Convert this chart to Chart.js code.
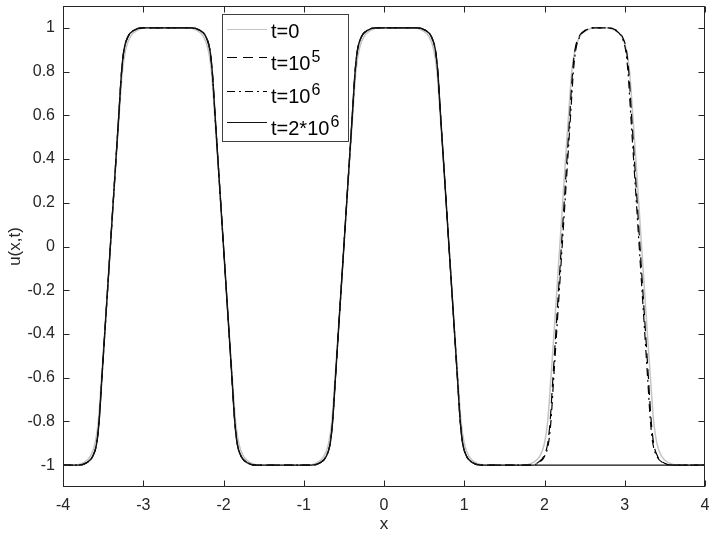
<!DOCTYPE html>
<html>
<head>
<meta charset="utf-8">
<title>u(x,t)</title>
<script src="https://cdn.jsdelivr.net/npm/chart.js@4.4.1/dist/chart.umd.min.js"></script>
<style>
  html, body { margin: 0; padding: 0; background: #fff; }
  #wrap { width: 712px; height: 538px; }
</style>
</head>
<body>
<div id="wrap"><canvas id="uChart" width="712" height="538"></canvas></div>
<script>
// Tick positions
const xTicks = [-4, -3, -2, -1, 0, 1, 2, 3, 4];
const yTicks = [-1, -0.8, -0.6, -0.4, -0.2, 0, 0.2, 0.4, 0.6, 0.8, 1];

// Legend text (base + superscript)
const legendBase = ['t=0', 't=10', 't=10', 't=2*10'];
const legendExp = ['', '5', '6', '6'];

// u values across one rising / falling interface
const riseU = [-1, -0.99, -0.96, -0.90, -0.80, -0.60, -0.40, -0.20, 0, 0.20, 0.40, 0.60, 0.80, 0.90, 0.96, 0.99, 1];
const fallU = [1, 0.99, 0.96, 0.90, 0.80, 0.60, 0.40, 0.20, 0, -0.20, -0.40, -0.60, -0.80, -0.90, -0.96, -0.99, -1];

// t = 0
const x0 = [-4.00,
  -3.86, -3.75, -3.66, -3.60, -3.56, -3.52, -3.482, -3.446, -3.41, -3.374, -3.338, -3.30, -3.26, -3.22, -3.16, -3.07, -2.96,
  -2.45, -2.34, -2.25, -2.19, -2.15, -2.11, -2.072, -2.036, -2.00, -1.964, -1.928, -1.89, -1.85, -1.81, -1.75, -1.66, -1.55,
  -0.95, -0.84, -0.75, -0.69, -0.65, -0.61, -0.572, -0.536, -0.50, -0.464, -0.428, -0.39, -0.35, -0.31, -0.25, -0.16, -0.05,
  0.36, 0.47, 0.56, 0.62, 0.66, 0.70, 0.738, 0.774, 0.81, 0.846, 0.882, 0.92, 0.96, 1.00, 1.06, 1.15, 1.26,
  1.74, 1.85, 1.94, 2.00, 2.04, 2.08, 2.118, 2.154, 2.19, 2.226, 2.262, 2.30, 2.34, 2.38, 2.44, 2.53, 2.64,
  2.76, 2.87, 2.96, 3.02, 3.06, 3.10, 3.138, 3.174, 3.21, 3.246, 3.282, 3.32, 3.36, 3.40, 3.46, 3.55, 3.66,
  4.00];
const u0 = [-1, ...riseU, ...fallU, ...riseU, ...fallU, ...riseU, ...fallU, -1];

// t = 10^5
const x1 = [-4.00,
  -3.81, -3.71, -3.63, -3.58, -3.55, -3.515, -3.48, -3.445, -3.41, -3.375, -3.34, -3.305, -3.27, -3.24, -3.19, -3.11, -3.01,
  -2.40, -2.30, -2.22, -2.17, -2.14, -2.105, -2.07, -2.035, -2.00, -1.965, -1.93, -1.895, -1.86, -1.83, -1.78, -1.70, -1.60,
  -0.90, -0.80, -0.72, -0.67, -0.64, -0.605, -0.57, -0.535, -0.50, -0.465, -0.43, -0.395, -0.36, -0.33, -0.28, -0.20, -0.10,
  0.41, 0.51, 0.59, 0.64, 0.67, 0.705, 0.74, 0.775, 0.81, 0.845, 0.88, 0.915, 0.95, 0.98, 1.03, 1.11, 1.21,
  1.81, 1.91, 1.99, 2.04, 2.07, 2.105, 2.14, 2.175, 2.21, 2.245, 2.28, 2.315, 2.35, 2.38, 2.43, 2.51, 2.61,
  2.79, 2.89, 2.97, 3.02, 3.05, 3.085, 3.12, 3.155, 3.19, 3.225, 3.26, 3.295, 3.33, 3.36, 3.41, 3.49, 3.59,
  4.00];
const u1 = [-1, ...riseU, ...fallU, ...riseU, ...fallU, ...riseU, ...fallU, -1];

// t = 10^6
const x2 = [-4.00,
  -3.81, -3.71, -3.63, -3.58, -3.55, -3.515, -3.48, -3.445, -3.41, -3.375, -3.34, -3.305, -3.27, -3.24, -3.19, -3.11, -3.01,
  -2.40, -2.30, -2.22, -2.17, -2.14, -2.105, -2.07, -2.035, -2.00, -1.965, -1.93, -1.895, -1.86, -1.83, -1.78, -1.70, -1.60,
  -0.90, -0.80, -0.72, -0.67, -0.64, -0.605, -0.57, -0.535, -0.50, -0.465, -0.43, -0.395, -0.36, -0.33, -0.28, -0.20, -0.10,
  0.41, 0.51, 0.59, 0.64, 0.67, 0.705, 0.74, 0.775, 0.81, 0.845, 0.88, 0.915, 0.95, 0.98, 1.03, 1.11, 1.21,
  1.82, 1.92, 2.00, 2.05, 2.08, 2.115, 2.15, 2.185, 2.22, 2.255, 2.29, 2.325, 2.36, 2.39, 2.44, 2.52, 2.62,
  2.78, 2.88, 2.96, 3.01, 3.04, 3.075, 3.11, 3.145, 3.18, 3.215, 3.25, 3.285, 3.32, 3.35, 3.40, 3.48, 3.58,
  4.00];
const u2 = [-1, ...riseU, ...fallU, ...riseU, ...fallU, ...riseU, ...fallU, -1];

// t = 2*10^6 (third bump gone)
const x3 = [-4.00,
  -3.81, -3.71, -3.63, -3.58, -3.55, -3.515, -3.48, -3.445, -3.41, -3.375, -3.34, -3.305, -3.27, -3.24, -3.19, -3.11, -3.01,
  -2.40, -2.30, -2.22, -2.17, -2.14, -2.105, -2.07, -2.035, -2.00, -1.965, -1.93, -1.895, -1.86, -1.83, -1.78, -1.70, -1.60,
  -0.90, -0.80, -0.72, -0.67, -0.64, -0.605, -0.57, -0.535, -0.50, -0.465, -0.43, -0.395, -0.36, -0.33, -0.28, -0.20, -0.10,
  0.41, 0.51, 0.59, 0.64, 0.67, 0.705, 0.74, 0.775, 0.81, 0.845, 0.88, 0.915, 0.95, 0.98, 1.03, 1.11, 1.21,
  4.00];
const u3 = [-1, ...riseU, ...fallU, ...riseU, ...fallU, -1];

const FONT = '"Liberation Sans", Arial, Helvetica, sans-serif';
const INK = '#262626';

function toPoints(xs, us) {
    return xs.map((x, i) => ({ x: x, y: us[i] }));
}

// Draws the box, inward ticks on all four sides and the legend
const frameAndLegend = {
    id: 'frameAndLegend',
    afterDraw(chart) {
        const { ctx, chartArea: a, scales } = chart;
        const L = Math.round(a.left) + 0.5, R = Math.round(a.right) - 0.5;
        const T = Math.round(a.top) + 0.5, B = Math.round(a.bottom) - 0.5;
        ctx.save();
        ctx.strokeStyle = INK;
        ctx.lineWidth = 1;
        ctx.setLineDash([]);
        ctx.strokeRect(L, T, R - L, B - T);

        ctx.beginPath();
        scales.x.ticks.forEach(t => {
            const px = Math.round(scales.x.getPixelForValue(t.value)) + 0.5;
            ctx.moveTo(px, B); ctx.lineTo(px, B - 6);
            ctx.moveTo(px, T); ctx.lineTo(px, T + 6);
        });
        scales.y.ticks.forEach(t => {
            const py = Math.round(scales.y.getPixelForValue(t.value)) + 0.5;
            ctx.moveTo(L, py); ctx.lineTo(L + 6, py);
            ctx.moveTo(R, py); ctx.lineTo(R - 6, py);
        });
        ctx.stroke();

        // legend box
        ctx.fillStyle = '#fff';
        ctx.fillRect(222.5, 14.5, 126, 127);
        ctx.strokeStyle = '#404040';
        ctx.strokeRect(222.5, 14.5, 126, 127);

        const lineY = [29.5, 57.5, 91.5, 122.5];
        const textY = [37.5, 70, 102.5, 135];
        chart.data.datasets.forEach((ds, i) => {
            ctx.strokeStyle = ds.borderColor;
            ctx.lineWidth = 1;
            ctx.setLineDash(ds.borderDash || []);
            ctx.beginPath();
            ctx.moveTo(227, lineY[i]);
            ctx.lineTo(267, lineY[i]);
            ctx.stroke();

            ctx.setLineDash([]);
            ctx.fillStyle = '#000';
            ctx.textBaseline = 'alphabetic';
            ctx.font = '20px ' + FONT;
            ctx.fillText(legendBase[i], 271, textY[i]);
            if (legendExp[i]) {
                const w = ctx.measureText(legendBase[i]).width;
                ctx.font = '16px ' + FONT;
                ctx.fillText(legendExp[i], 271 + w + 1, textY[i] - 8);
            }
        });
        ctx.restore();
    }
};

const ctx = document.getElementById('uChart').getContext('2d');
new Chart(ctx, {
    type: 'line',
    data: {
        datasets: [
            { label: 't=0', data: toPoints(x0, u0), borderColor: '#c4c4c4', borderWidth: 1.5, order: 4 },
            { label: 't=10^5', data: toPoints(x1, u1), borderColor: '#000', borderWidth: 1.2, borderDash: [10, 6], order: 3 },
            { label: 't=10^6', data: toPoints(x2, u2), borderColor: '#000', borderWidth: 1.2, borderDash: [8, 4, 2, 4], order: 2 },
            { label: 't=2*10^6', data: toPoints(x3, u3), borderColor: '#111', borderWidth: 1.4, order: 1 }
        ]
    },
    options: {
        responsive: false,
        animation: false,
        devicePixelRatio: 1,
        layout: { padding: { top: 6, right: 7, left: 0, bottom: 0 } },
        elements: {
            point: { radius: 0 },
            line: { cubicInterpolationMode: 'monotone', fill: false }
        },
        plugins: {
            legend: { display: false },
            tooltip: { enabled: false }
        },
        scales: {
            x: {
                type: 'linear',
                min: -4,
                max: 4,
                afterBuildTicks: s => { s.ticks = xTicks.map(v => ({ value: v })); },
                afterFit: s => { s.height = 51; s.paddingLeft = 0; s.paddingRight = 0; },
                grid: { display: false, drawTicks: false },
                border: { display: false },
                ticks: {
                    font: { family: FONT, size: 16 },
                    color: INK,
                    padding: 9,
                    maxRotation: 0,
                    autoSkip: false,
                    callback: v => String(v)
                },
                title: {
                    display: true,
                    text: 'x',
                    font: { family: FONT, size: 17 },
                    color: INK,
                    padding: { top: 0, bottom: 3 }
                }
            },
            y: {
                type: 'linear',
                min: -1.1,
                max: 1.1,
                afterBuildTicks: s => { s.ticks = yTicks.map(v => ({ value: v })); },
                afterFit: s => { s.width = 63; s.paddingTop = 0; s.paddingBottom = 0; },
                grid: { display: false, drawTicks: false },
                border: { display: false },
                ticks: {
                    font: { family: FONT, size: 16 },
                    color: INK,
                    padding: 8,
                    autoSkip: false,
                    callback: v => String(Math.round(v * 10) / 10)
                },
                title: {
                    display: true,
                    text: 'u(x,t)',
                    font: { family: FONT, size: 17 },
                    color: INK,
                    padding: { top: 5, bottom: 0 }
                }
            }
        }
    },
    plugins: [frameAndLegend]
});
</script>
</body>
</html>
